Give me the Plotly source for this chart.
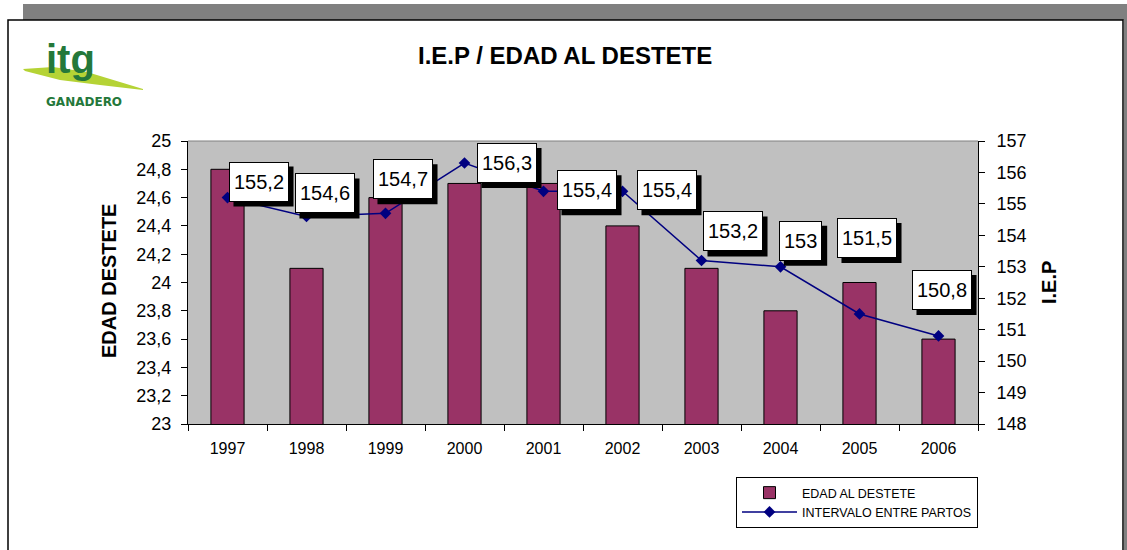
import plotly.graph_objects as go

years = ["1997", "1998", "1999", "2000", "2001", "2002", "2003", "2004", "2005", "2006"]
edad_destete = [24.8, 24.1, 24.6, 24.7, 24.7, 24.4, 24.1, 23.8, 24.0, 23.6]
iep = [155.2, 154.6, 154.7, 156.3, 155.4, 155.4, 153.2, 153.0, 151.5, 150.8]
iep_labels = ["155,2", "154,6", "154,7", "156,3", "155,4", "155,4", "153,2", "153", "151,5", "150,8"]

# label box offsets (screen px, right / down) relative to each point
label_dx = [31, 18, 17, 42, 43, 44, 31, 20, 7, 3]
label_dy = [-16, -23, -34, 0, -1, -1, -29, -26, -76, -46]

W, H = 1127, 550
L, R, T, B = 188, 978, 141, 424
LABEL_SIZE = 20
SHADOW = 5


def px(x):
    return (x - L) / (R - L)


def py(y):
    return (B - y) / (B - T)


def text_w(s, size):
    return sum((0.278 if c in ",." else 0.556) for c in s) * size


FONT = "Arial, Liberation Sans, sans-serif"

fig = go.Figure()
fig.add_trace(go.Bar(
    x=years, y=edad_destete, name="EDAD AL DESTETE",
    marker=dict(color="#993366", line=dict(color="black", width=1)),
    width=0.42, yaxis="y",
))
fig.add_trace(go.Scatter(
    x=years, y=iep, name="INTERVALO ENTRE PARTOS", mode="lines+markers",
    line=dict(color="#000080", width=1.5),
    marker=dict(symbol="diamond", size=9, color="#000080"),
    yaxis="y2",
))

annotations = []
shapes = []
for i, (v, t, dx, dy) in enumerate(zip(iep, iep_labels, label_dx, label_dy)):
    w = text_w(t, LABEL_SIZE) + 10
    h = 40
    shapes.append(dict(
        type="rect", xref="x", yref="y2", xsizemode="pixel", ysizemode="pixel",
        xanchor=i, yanchor=v,
        x0=dx - w / 2 + SHADOW, x1=dx + w / 2 + SHADOW,
        y0=-dy - h / 2 - SHADOW, y1=-dy + h / 2 - SHADOW,
        fillcolor="black", line=dict(width=0), layer="above",
    ))
    annotations.append(dict(
        x=i, y=v, xref="x", yref="y2", text=t, showarrow=False,
        xanchor="center", yanchor="middle",
        xshift=dx, yshift=-dy, font=dict(size=LABEL_SIZE, color="black", family=FONT),
        bgcolor="white", bordercolor="black", borderwidth=1, borderpad=4, height=30,
    ))


def ptext(x, y, text, size, color="black", family=FONT, angle=0):
    return dict(x=px(x), y=py(y), xref="paper", yref="paper", text=text, showarrow=False,
                xanchor="center", yanchor="middle", textangle=angle,
                font=dict(size=size, color=color, family=family))


annotations += [
    ptext(565, 55, "<b>I.E.P / EDAD AL DESTETE</b>", 24),
    ptext(109, 281, "<b>EDAD DESTETE</b>", 20, angle=-90),
    ptext(1049, 283, "<b>I.E.P</b>", 20, angle=-90),
    ptext(71, 59, "<b>itg</b>", 40, color="#24783a"),
    ptext(84, 102, "<b>GANADERO</b>", 12, color="#24783a", family="DejaVu Sans"),
]


def path(points):
    return "M " + " L ".join(f"{px(x):.5f},{py(y):.5f}" for x, y in points) + " Z"


shapes += [
    # shadow
    dict(type="rect", xref="paper", yref="paper", x0=px(23), x1=px(1127), y0=py(20), y1=py(4),
         fillcolor="#808080", line=dict(width=0)),
    dict(type="rect", xref="paper", yref="paper", x0=px(1124), x1=px(1127), y0=py(560), y1=py(4),
         fillcolor="#808080", line=dict(width=0)),
    # frame
    dict(type="rect", xref="paper", yref="paper", x0=px(8), x1=px(1123), y0=py(565), y1=py(20),
         line=dict(color="black", width=1.5)),
    # plot area top border
    dict(type="line", xref="paper", yref="paper", x0=0, x1=1, y0=1, y1=1,
         line=dict(color="#808080", width=1)),
    # logo swoosh
    dict(type="path", xref="paper", yref="paper",
         path=path([(23, 69), (53, 67), (87, 72), (143, 89), (143, 90), (100, 85), (60, 80), (25, 71)]),
         fillcolor="#b5d335", line=dict(width=0), layer="below"),
]

axis_common = dict(showgrid=False, zeroline=False, showline=True, linecolor="black", linewidth=1,
                   ticks="outside", ticklen=6, tickcolor="black")

fig.update_layout(
    width=W, height=H,
    margin=dict(l=L, r=W - R, t=T, b=H - B),
    paper_bgcolor="white", plot_bgcolor="#C0C0C0",
    separators=",.",
    font=dict(family=FONT, color="black"),
    showlegend=True,
    legend=dict(x=px(736), y=py(477), xanchor="left", yanchor="top",
                bgcolor="white", bordercolor="black", borderwidth=1,
                font=dict(size=12.5, family=FONT), tracegroupgap=0, itemwidth=55),
    xaxis=dict(type="category", range=[-0.5, len(years) - 0.5], tickson="boundaries",
               tickfont=dict(size=16), tickangle=0, ticklabelstandoff=10, **axis_common),
    yaxis=dict(range=[23, 25], dtick=0.2, tick0=23, tickfont=dict(size=18),
               ticklabelstandoff=6, **axis_common),
    yaxis2=dict(range=[148, 157], dtick=1, tick0=148, overlaying="y", side="right",
                tickfont=dict(size=18), ticklabelstandoff=8, **axis_common),
    annotations=annotations,
    shapes=shapes,
    bargap=0.58,
)

fig.write_html("out.html", config={"displayModeBar": False},
               post_script="document.body.style.margin='0';document.body.style.overflow='hidden';")
